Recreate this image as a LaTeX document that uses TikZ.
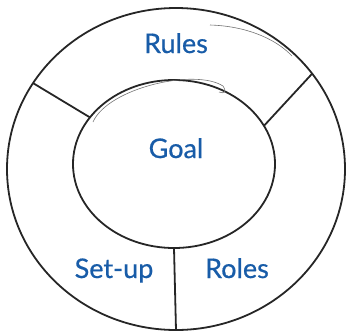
\documentclass[tikz,border=0pt]{standalone}
\usepackage{fontspec}
\setmainfont{Lato}[FakeBold=0.6]
\usetikzlibrary{shapes.geometric}
\definecolor{labelblue}{RGB}{24,92,168}

\begin{document}
\begin{tikzpicture}
  [
  x=1pt, y=-1pt,
  ring/.style={draw=black!85, ellipse, line width=1.8pt, outer sep=0pt, inner sep=0pt},
  divider/.style={draw=black!85, line width=1.8pt},
  sketch/.style={draw=black!55, line width=0.6pt},
  part/.style={text=labelblue, anchor=base, font=\fontsize{27}{27}\selectfont}
  ]
  \useasboundingbox (0,0) rectangle (351,333);

  \node[ring, minimum width=338, minimum height=322] (outer) at (176,169) {};
  \node[ring, minimum width=202, minimum height=168] (inner) at (174,164) {};

  % the three dividers
  \draw[divider] (outer.149) -- (inner.151);
  \draw[divider] (outer.35) -- (inner.23);
  \draw[divider] (outer.270) -- (inner.270);

  % loose pencil strokes
  \draw[sketch] (210,25) .. controls (245,26) and (275,38) .. (292,56);
  \draw[sketch] (93,122) .. controls (108,88) and (195,68) .. (223,86)
    .. controls (227,92) and (224,94) .. (219,92);

  \node[part] (rules) at (176,53) {Rules};
  \node[part] (goal) at (176,158) {Goal};
  \node[part] (setup) at (114,278) {Set-up};
  \node[part] (roles) at (237,278) {Roles};
\end{tikzpicture}
\end{document}
